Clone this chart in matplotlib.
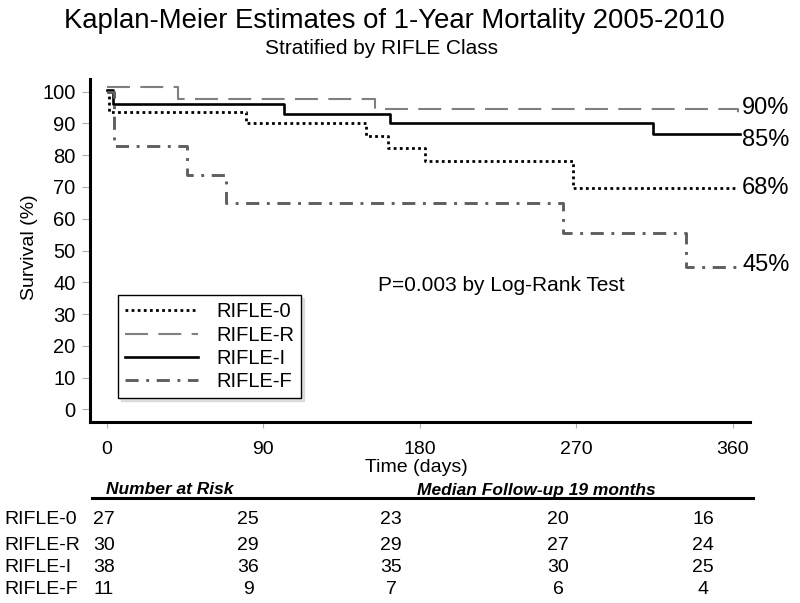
import numpy as np
import matplotlib.pyplot as plt

plt.rcParams['font.family'] = ['Liberation Sans', 'DejaVu Sans']

# step curves (day of each drop, survival % after it)
groups = ['RIFLE-0', 'RIFLE-R', 'RIFLE-I', 'RIFLE-F']
days_0 = [0, 1, 80, 149, 162, 183, 268, 362]
surv_0 = [100, 93.7, 90.0, 86.1, 82.2, 78.2, 69.6, 69.6]
days_R = [0, 41, 154.5, 363]
surv_R = [101.4, 97.7, 94.5, 90.6]
days_I = [0, 3.5, 102, 163, 314, 364]
surv_I = [100.5, 96.0, 93.1, 90.2, 86.6, 86.6]
days_F = [0, 4, 46, 68.7, 262.4, 333.3, 366]
surv_F = [100, 83.0, 73.8, 64.9, 55.6, 44.9, 44.9]

# percent labels at right end of curves
end_labels = ['68%', '90%', '85%', '45%']
end_y = [69.7, 94.9, 84.8, 45.4]

# number at risk table
risk_days = [0, 90, 180, 270, 360]
risk_0 = [27, 25, 23, 20, 16]
risk_R = [30, 29, 29, 27, 24]
risk_I = [38, 36, 35, 30, 25]
risk_F = [11, 9, 7, 6, 4]

W, H = 800, 603
fig = plt.figure(figsize=(W / 100, H / 100), dpi=100)

def fx(px):
    return px / W

def fy(py):
    return 1 - py / H

ax = fig.add_axes([fx(89.5), fy(422), fx(750) - fx(89.5), fy(79) - fy(422)])

styles = [
    dict(color='black', lw=2.0, dashes=(1, 1.2)),
    dict(color='#7f7f7f', lw=1.5, dashes=(11, 5)),
    dict(color='black', lw=1.9),
    dict(color='#5f5f5f', lw=2.1, dashes=(4.5, 2.6, 1, 2.6)),
]
all_days = [days_0, days_R, days_I, days_F]
all_surv = [surv_0, surv_R, surv_I, surv_F]
for name, d, s, st in zip(groups, all_days, all_surv, styles):
    ax.step(d, s, where='post', label=name, **st)

for lab, y in zip(end_labels, end_y):
    ax.text(365.5, y, lab, fontsize=17, va='center', ha='left', clip_on=False)

ax.text(156, 39, 'P=0.003 by Log-Rank Test', fontsize=15, va='center', ha='left')

ax.set_xlim(-10, 370)
ax.set_ylim(-4, 104)
ax.set_xticks(risk_days)
ax.set_yticks(np.arange(0, 101, 10))
ax.tick_params(axis='y', length=6, width=0.8, color='#b0b0b0', labelsize=14.5, pad=4)
ax.tick_params(axis='x', length=4, width=0.8, color='#b0b0b0', labelsize=14, pad=10)
for side in ['top', 'right']:
    ax.spines[side].set_visible(False)
for side in ['left', 'bottom']:
    ax.spines[side].set_linewidth(2.2)

leg = ax.legend(loc='upper left', bbox_to_anchor=(0.0436, 0.370), borderaxespad=0,
                fontsize=14.5, handlelength=3.6, handletextpad=0.9, labelspacing=0.22,
                frameon=True, fancybox=False, edgecolor='black',
                shadow={'color': '0.8', 'alpha': 0.6}, borderpad=0.35)
leg.get_frame().set_linewidth(1.0)

# titles and axis labels
fig.text(fx(394), fy(21), 'Kaplan-Meier Estimates of 1-Year Mortality 2005-2010',
         fontsize=19.8, ha='center', va='center')
fig.text(fx(381.5), fy(48), 'Stratified by RIFLE Class', fontsize=15,
         ha='center', va='center')
fig.text(fx(30), fy(247), 'Survival (%)', fontsize=14, rotation=90,
         ha='center', va='center')
fig.text(fx(416.7), fy(468), 'Time (days)', fontsize=14, ha='center', va='center')

# number at risk table
fig.text(fx(106), fy(490), 'Number at Risk', fontsize=12.5, fontweight='bold',
         style='italic', ha='left', va='center')
fig.text(fx(416.7), fy(490), 'Median Follow-up 19 months', fontsize=12.5,
         fontweight='bold', style='italic', ha='left', va='center')
fig.add_artist(plt.Line2D([fx(91.7), fx(753)], [fy(498), fy(498)], color='black', lw=2.2))

col_x = [104, 248, 391, 558, 703]
row_y = [520, 545, 567.7, 590]
for name, risk, ry in zip(groups, [risk_0, risk_R, risk_I, risk_F], row_y):
    fig.text(fx(4), fy(ry), name, fontsize=14, ha='left', va='center')
    for n, cx in zip(risk, col_x):
        fig.text(fx(cx), fy(ry), str(n), fontsize=14,
                 ha='center', va='center')

fig.savefig('out.png', dpi=100)
